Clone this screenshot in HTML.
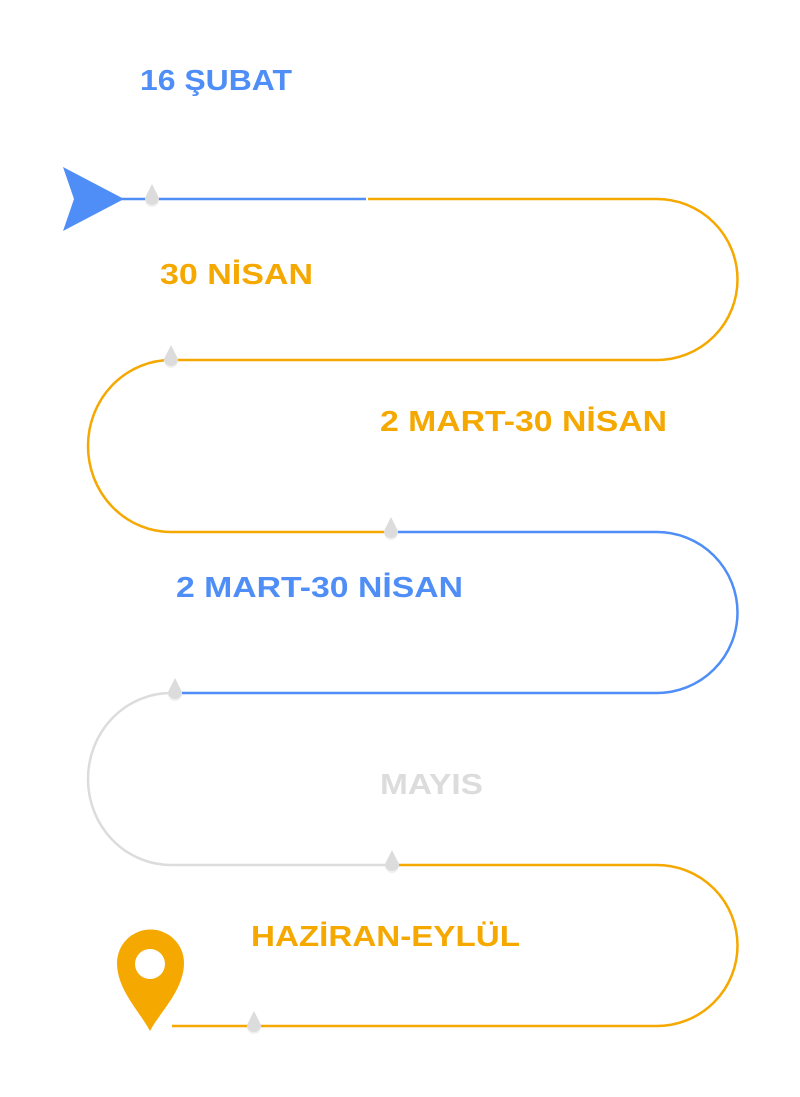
<!DOCTYPE html>
<html><head><meta charset="utf-8"><style>
html,body{margin:0;padding:0;background:#fff;}
svg{display:block;}
text{font-family:"Liberation Sans",sans-serif;font-weight:bold;font-size:29px;}
</style></head><body>
<svg width="800" height="1097" viewBox="0 0 800 1097" xmlns="http://www.w3.org/2000/svg">
<defs>
<g id="drop">
<circle cx="0" cy="3" r="7" fill="#f0f0f0"/>
<path d="M0,-13 L-7,1 A7,7 0 0 0 7,1 Z" fill="#dcdcdc"/>
</g>
</defs>
<g fill="none" stroke-width="2.5">
<path d="M120,199 H366" stroke="#4f8ef7"/>
<path d="M368,199 H657 A80.5,80.5 0 0 1 657,360 H171 A83,86 0 0 0 171,532 H390" stroke="#f5a800"/>
<path d="M392,532 H657 A80.5,80.5 0 0 1 657,693 H178" stroke="#4f8ef7"/>
<path d="M178,693 H171 A83,86 0 0 0 171,865 H392" stroke="#dcdcdc"/>
<path d="M392,865 H657 A80.5,80.5 0 0 1 657,1026 H172" stroke="#f5a800"/>
</g>
<path d="M63,167 L124,199 L63,231 L74,199 Z" fill="#4f8ef7"/>
<use href="#drop" x="152" y="197"/>
<use href="#drop" x="171" y="358"/>
<use href="#drop" x="391" y="530"/>
<use href="#drop" x="175" y="691"/>
<use href="#drop" x="392" y="863"/>
<use href="#drop" x="254" y="1024"/>
<path d="M150,1031 C140,1012 117,990 117,963 A33.5,33.5 0 0 1 184,963 C184,990 160,1012 150,1031 Z" fill="#f5a800"/>
<circle cx="150" cy="964" r="15" fill="#fff"/>
<text x="140" y="90" fill="#4f8ef7" textLength="152" lengthAdjust="spacingAndGlyphs">16 ŞUBAT</text>
<text x="160" y="284" fill="#f5a800" textLength="153" lengthAdjust="spacingAndGlyphs">30 NİSAN</text>
<text x="380" y="431" fill="#f5a800" textLength="287" lengthAdjust="spacingAndGlyphs">2 MART-30 NİSAN</text>
<text x="176" y="597" fill="#4f8ef7" textLength="287" lengthAdjust="spacingAndGlyphs">2 MART-30 NİSAN</text>
<text x="380" y="794" fill="#dcdcdc" textLength="103" lengthAdjust="spacingAndGlyphs">MAYIS</text>
<text x="251" y="946" fill="#f5a800" textLength="269" lengthAdjust="spacingAndGlyphs">HAZİRAN-EYLÜL</text>
</svg>
</body></html>
